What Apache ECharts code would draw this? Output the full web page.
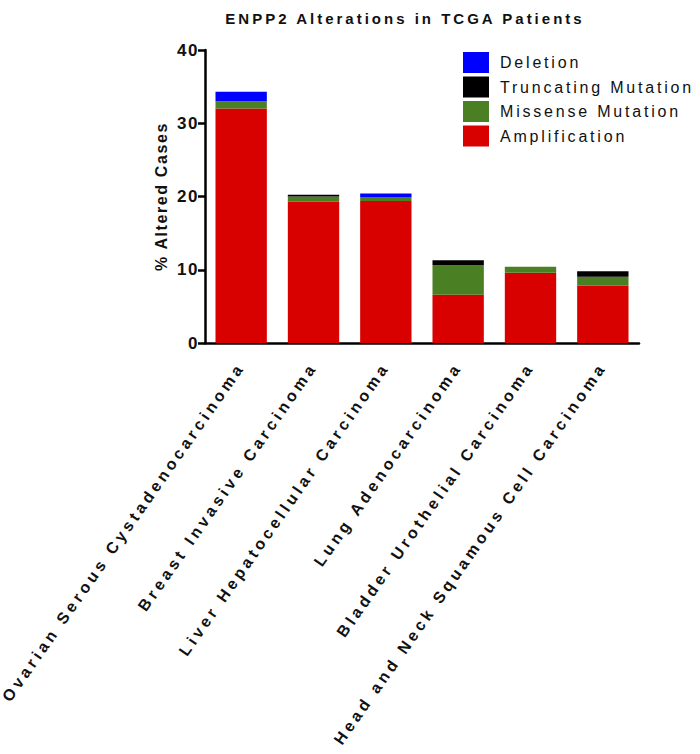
<!DOCTYPE html>
<html>
<head>
<meta charset="utf-8">
<script src="https://cdn.jsdelivr.net/npm/echarts@6/dist/echarts.min.js"></script>
<style>
html,body{margin:0;padding:0;background:#fff;}
#chart{width:700px;height:754px;}
</style>
</head>
<body>
<div id="chart"></div>
<script>
const categories = [
  "Ovarian Serous Cystadenocarcinoma",
  "Breast Invasive Carcinoma",
  "Liver Hepatocellular Carcinoma",
  "Lung Adenocarcinoma",
  "Bladder Urothelial Carcinoma",
  "Head and Neck Squamous Cell Carcinoma"
];
const amplification = [32.0, 19.3, 19.4, 6.6, 9.6, 7.8];
const missense = [1.0, 0.7, 0.45, 4.0, 0.8, 1.25];
const truncating = [0, 0.25, 0, 0.7, 0, 0.75];
const deletion = [1.3, 0, 0.55, 0, 0, 0];
const yTicks = [0, 10, 20, 30, 40];
const titleText = "ENPP2 Alterations in TCGA Patients";
const yName = "% Altered Cases";
const legendNames = ["Deletion", "Truncating Mutation", "Missense Mutation", "Amplification"];

const FONT = "Arial, 'Liberation Sans', sans-serif";
const chart = echarts.init(document.getElementById('chart'), null, {renderer: 'svg'});

function bar(name, data, color) {
  return {
    name: name, type: 'bar', stack: 'all', data: data,
    barCategoryGap: '29%',
    itemStyle: {color: color},
    emphasis: {disabled: true}
  };
}

chart.setOption({
  animation: false,
  backgroundColor: '#fff',
  title: {
    text: titleText,
    left: 400, top: 6, textAlign: 'center',
    textStyle: {fontFamily: FONT, fontWeight: 'bold', fontSize: 15, color: '#111'}
  },
  legend: {
    data: legendNames,
    orient: 'vertical',
    left: 458, top: 47,
    itemWidth: 26, itemHeight: 21, itemGap: 3.5,
    icon: 'rect',
    textStyle: {fontFamily: FONT, fontSize: 16, color: '#111', padding: [0, 0, 0, 6]}
  },
  grid: {left: 205, right: 61, top: 50, bottom: 411, containLabel: false},
  xAxis: {
    type: 'category',
    data: categories,
    axisLine: {lineStyle: {color: '#000', width: 2.5}},
    axisTick: {alignWithLabel: true, length: 6, lineStyle: {color: '#000', width: 2.5}},
    axisLabel: {
      interval: 0, rotate: 55, margin: 21,
      fontFamily: FONT, fontWeight: 'bold', fontSize: 16, color: '#111'
    }
  },
  yAxis: {
    type: 'value', min: 0, max: 40, interval: 10,
    name: yName, nameLocation: 'middle', nameGap: 25,
    nameTextStyle: {fontFamily: FONT, fontWeight: 'bold', fontSize: 16, color: '#111'},
    axisLine: {show: true, lineStyle: {color: '#000', width: 2.5}},
    axisTick: {show: true, length: 7, lineStyle: {color: '#000', width: 2.5}},
    splitLine: {show: false},
    axisLabel: {
      margin: 6, fontFamily: FONT, fontWeight: 'bold', fontSize: 17, color: '#111',
      formatter: function (v) { return yTicks.indexOf(v) >= 0 ? String(v) : ''; }
    }
  },
  series: [
    bar("Amplification", amplification, '#d90000'),
    bar("Missense Mutation", missense, '#4b7f24'),
    bar("Truncating Mutation", truncating, '#000000'),
    bar("Deletion", deletion, '#0000ff')
  ]
});

function applySpacing() {
  document.querySelectorAll('#chart text').forEach(function (t) {
    const s = t.textContent;
    let sp = 0;
    if (categories.indexOf(s) >= 0) sp = 3.8;
    else if (legendNames.indexOf(s) >= 0) sp = 2.8;
    else if (s === titleText) sp = 3.0;
    else if (s === yName) sp = 1.6;
    else if (/^\d+$/.test(s)) sp = 1.5;
    if (sp) t.setAttribute('letter-spacing', sp + 'px');
  });
}
chart.on('finished', applySpacing);
applySpacing();
</script>
</body>
</html>
